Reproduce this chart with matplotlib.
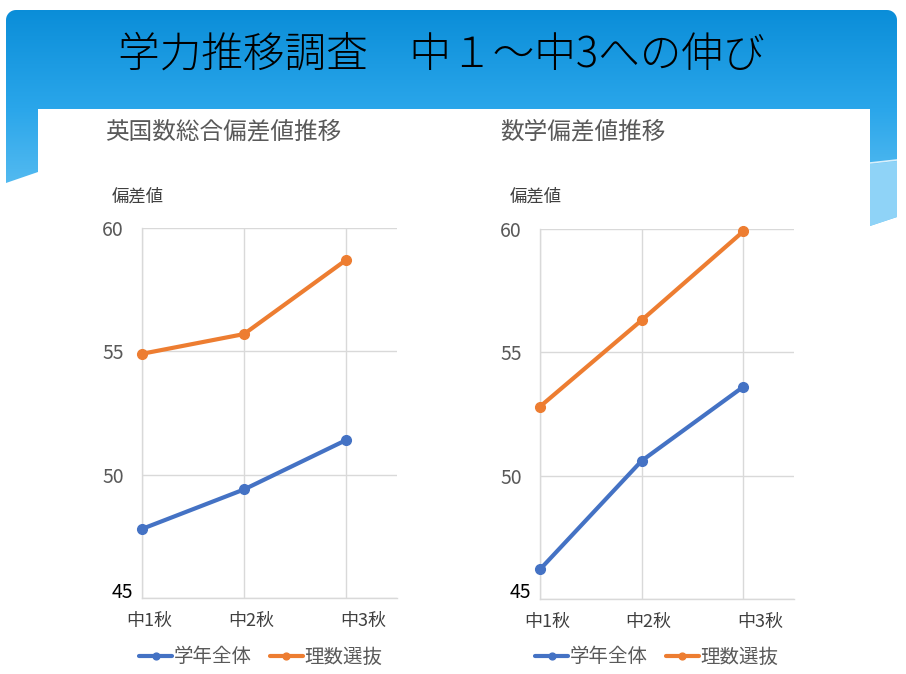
import matplotlib
matplotlib.use("Agg")
import matplotlib.pyplot as plt
import numpy as np
from matplotlib.colors import LinearSegmentedColormap
from matplotlib.patches import Polygon
from matplotlib.transforms import ScaledTranslation, blended_transform_factory

plt.rcParams['font.family'] = ['Noto Sans CJK JP', 'DejaVu Sans']

# --- data -------------------------------------------------------------------
TITLE = "学力推移調査　中１～中3への伸び"
CATEGORIES = ["中1秋", "中2秋", "中3秋"]
SERIES_NAMES = ["学年全体", "理数選抜"]
YTICKS = [45, 50, 55, 60]

SOGO_TITLE = "英国数総合偏差値推移"
SOGO_ZENTAI = [47.8, 49.4, 51.4]
SOGO_RISU = [54.9, 55.7, 58.7]

SUGAKU_TITLE = "数学偏差値推移"
SUGAKU_ZENTAI = [46.2, 50.6, 53.6]
SUGAKU_RISU = [52.8, 56.3, 59.9]

W, H, DPI = 906, 674, 100
BLUE, ORANGE = "#4472C4", "#ED7D31"
GRID = "#d9d9d9"


def fx(x):
    return x / W


def fy(y):
    return 1 - y / H


fig = plt.figure(figsize=(W / DPI, H / DPI), dpi=DPI)

# --- slide background ------------------------------------------------------
bg = fig.add_axes([0, 0, 1, 1], zorder=-10)
bg.set_xlim(0, W)
bg.set_ylim(H, 0)
bg.axis("off")

grad = LinearSegmentedColormap.from_list(
    "slide", [(0.0, "#0a8dd8"), (0.45, "#2aa6ea"), (1.0, "#6cc6f4")])
img = bg.imshow(np.linspace(0, 1, 256).reshape(-1, 1), cmap=grad, aspect="auto",
                extent=(0, W, 230, 8), zorder=1)

# rounded-top blue header shape
r = 10
t = np.linspace(0, np.pi / 2, 10)
left_arc = np.column_stack([6 + r - r * np.cos(t), 10 + r - r * np.sin(t)])
right_arc = np.column_stack([897 - r + r * np.sin(t), 10 + r - r * np.cos(t)])
pts = np.vstack([[[6, 183]], left_arc, right_arc, [[897, 217], [870, 226], [38, 172]]])
shape = Polygon(pts, closed=True, facecolor="none", edgecolor="none")
bg.add_patch(shape)
img.set_clip_path(shape)

# lighter strip + wave line on the right edge
bg.add_patch(Polygon([[870, 164], [897, 161], [897, 217], [870, 226]],
                     closed=True, facecolor="#8fd3f7", edgecolor="none", zorder=2))
bg.plot([870, 897], [163, 160], color="white", lw=1.2, alpha=0.8, zorder=3)

# white content area
bg.add_patch(Polygon([[38, 109], [870, 109], [870, H], [38, H]], closed=True,
                     facecolor="white", edgecolor="none", zorder=4))

fig.text(fx(441), fy(55), TITLE, ha="center", va="center", fontsize=30,
         color="black", fontweight="light")


# --- charts ----------------------------------------------------------------
def draw_chart(rect, title, title_xy, ylabel_xy, zentai, risu, legend_x):
    ax = fig.add_axes(rect)
    x = np.arange(len(CATEGORIES))
    ax.plot(x, zentai, color=BLUE, lw=3, marker="o", ms=7, label=SERIES_NAMES[0],
            solid_capstyle="round", zorder=3, clip_on=False)
    ax.plot(x, risu, color=ORANGE, lw=3, marker="o", ms=7, label=SERIES_NAMES[1],
            solid_capstyle="round", zorder=3, clip_on=False)
    ax.set_xlim(0, 2.5)
    ax.set_ylim(45, 60)
    ax.set_xticks(x)
    ax.set_yticks(YTICKS)
    ax.set_yticklabels([""] + [str(v) for v in YTICKS[1:]])
    ax.set_xticklabels([])
    ax.grid(True, color=GRID, lw=1)
    ax.set_axisbelow(True)
    for s in ["top", "right"]:
        ax.spines[s].set_visible(False)
    for s in ["left", "bottom"]:
        ax.spines[s].set_color(GRID)
        ax.spines[s].set_linewidth(1)
    ax.tick_params(length=0, labelsize=14, labelcolor="#595959", pad=13)

    # bottom value label sits a bit inside, in black
    ax.text(0, YTICKS[0], str(YTICKS[0]), ha="right", va="center", fontsize=14,
            color="black",
            transform=ax.transData + ScaledTranslation(-9 / DPI, 6 / DPI, fig.dpi_scale_trans))

    # category labels under the axis
    tr = blended_transform_factory(ax.transData, ax.transAxes)
    for i, (cat, dx) in enumerate(zip(CATEGORIES, [7, 7, 17])):
        ax.text(i, 0, cat, ha="center", va="center", fontsize=13, color="#404040",
                transform=tr + ScaledTranslation(dx / DPI, -23 / DPI, fig.dpi_scale_trans))

    fig.text(fx(title_xy[0]), fy(title_xy[1]), title, ha="left", va="center",
             fontsize=17, color="#595959")
    fig.text(fx(ylabel_xy[0]), fy(ylabel_xy[1]), "偏差値", ha="left", va="center",
             fontsize=12.5, color="#404040")

    ax.legend(loc="center", bbox_to_anchor=(fx(legend_x), fy(657)),
              bbox_transform=fig.transFigure, ncol=2, frameon=False, fontsize=14,
              labelcolor="#595959", handlelength=1.7, handletextpad=0.1,
              columnspacing=0.9, markerscale=0.7)
    return ax


draw_chart([fx(142), fy(598), fx(397) - fx(142), fy(228) - fy(598)],
           SOGO_TITLE, (105, 132), (112, 197), SOGO_ZENTAI, SOGO_RISU, 261)
draw_chart([fx(540), fy(599), fx(794) - fx(540), fy(229) - fy(599)],
           SUGAKU_TITLE, (500, 132), (510, 197), SUGAKU_ZENTAI, SUGAKU_RISU, 657)

fig.savefig("out.png", dpi=DPI)
